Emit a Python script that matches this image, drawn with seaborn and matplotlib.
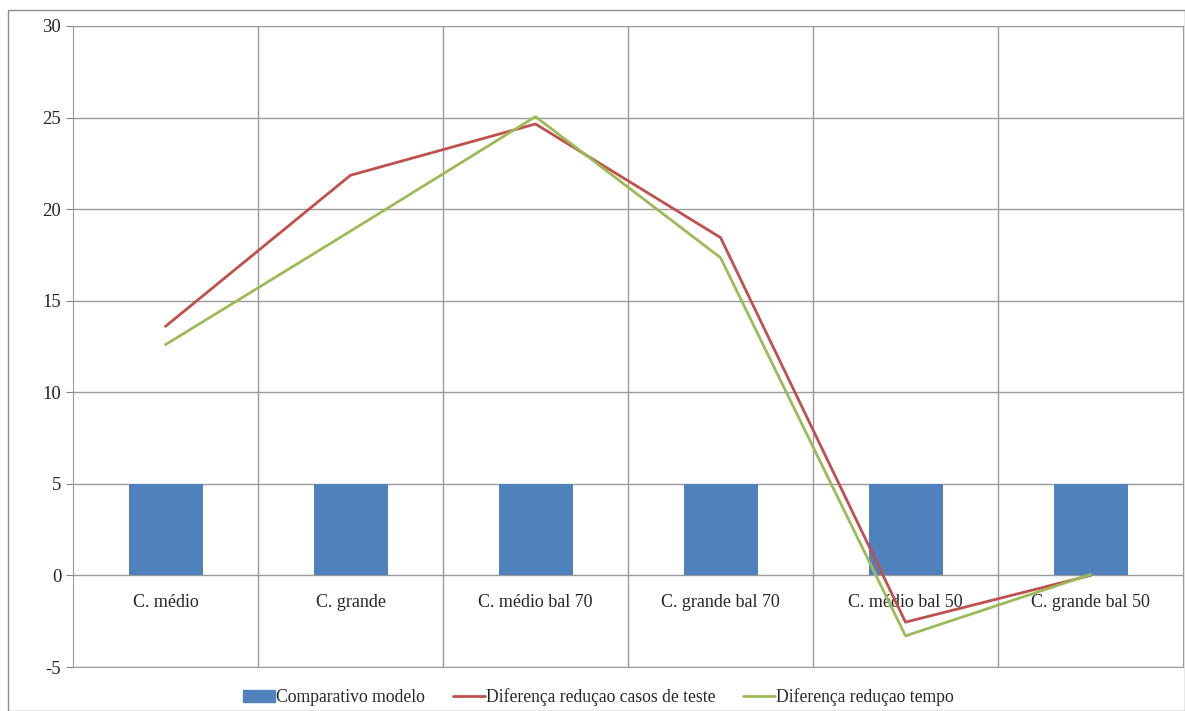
import numpy as np
import pandas as pd
import matplotlib
matplotlib.use('Agg')
import matplotlib.pyplot as plt
import seaborn as sns
from matplotlib.patches import Rectangle, Patch
from matplotlib.lines import Line2D

# dados
categorias = ['C. médio', 'C. grande', 'C. médio bal 70', 'C. grande bal 70',
              'C. médio bal 50', 'C. grande bal 50']
comparativo = [5, 5, 5, 5, 5, 5]
dif_casos = [13.6, 21.85, 24.65, 18.45, -2.55, 0.0]
dif_tempo = [12.6, 18.8, 25.05, 17.35, -3.3, 0.05]

sns.set_style('white')
plt.rcParams['font.family'] = ['Liberation Serif', 'DejaVu Serif']
plt.rcParams['axes.unicode_minus'] = False

fig = plt.figure(figsize=(11.85, 7.11), dpi=100)
ax = fig.add_axes([73/1185, 1-667/711, (1183-73)/1185, (667-26)/711])

df = pd.DataFrame({'cat': categorias, 'comp': comparativo})
sns.barplot(df, x='cat', y='comp', color='#4F81BD', width=0.4, saturation=1,
            linewidth=0, ax=ax, zorder=3)

x = np.arange(len(categorias))
sns.lineplot(x=x, y=dif_casos, color='#C0504D', linewidth=2, ax=ax, zorder=4)
sns.lineplot(x=x, y=dif_tempo, color='#9BBB59', linewidth=2, ax=ax, zorder=4)

ax.set_xlim(-0.5, 5.5)
ax.set_ylim(-5, 30)
ax.set_yticks(range(-5, 31, 5))
ax.set_xticks([])
ax.set_xticks(np.arange(0.5, 5.5, 1), minor=True)
ax.grid(True, axis='y', color='#9a9a9a', linewidth=1)
ax.grid(True, axis='x', which='minor', color='#9a9a9a', linewidth=1)
ax.tick_params(axis='x', which='minor', length=0)
ax.tick_params(axis='y', left=True, length=5, color='#888888', labelsize=13.5)
ax.set_axisbelow(True)
for s in ax.spines.values():
    s.set_color('#9a9a9a')
ax.set_xlabel('')
ax.set_ylabel('')

# rotulos das categorias dentro do grafico, logo abaixo do zero
for i, c in enumerate(categorias):
    ax.text(i, -1.5, c, ha='center', va='center', fontsize=13)

handles = [Patch(color='#4F81BD'),
           Line2D([], [], color='#C0504D', linewidth=2),
           Line2D([], [], color='#9BBB59', linewidth=2)]
labels = ['Comparativo modelo', 'Diferença reduçao casos de teste', 'Diferença reduçao tempo']
fig.legend(handles, labels, loc='center', bbox_to_anchor=(0.505, 1-697/711), ncol=3,
           frameon=False, fontsize=12.7, handlelength=1.8, handletextpad=0.05,
           columnspacing=1.6)

fig.add_artist(Rectangle((8/1185, 0), 1 - 8/1185, 1 - 10/711, transform=fig.transFigure,
                         fill=False, edgecolor='#8c8c8c', linewidth=1))

fig.savefig('out.png', dpi=100)
